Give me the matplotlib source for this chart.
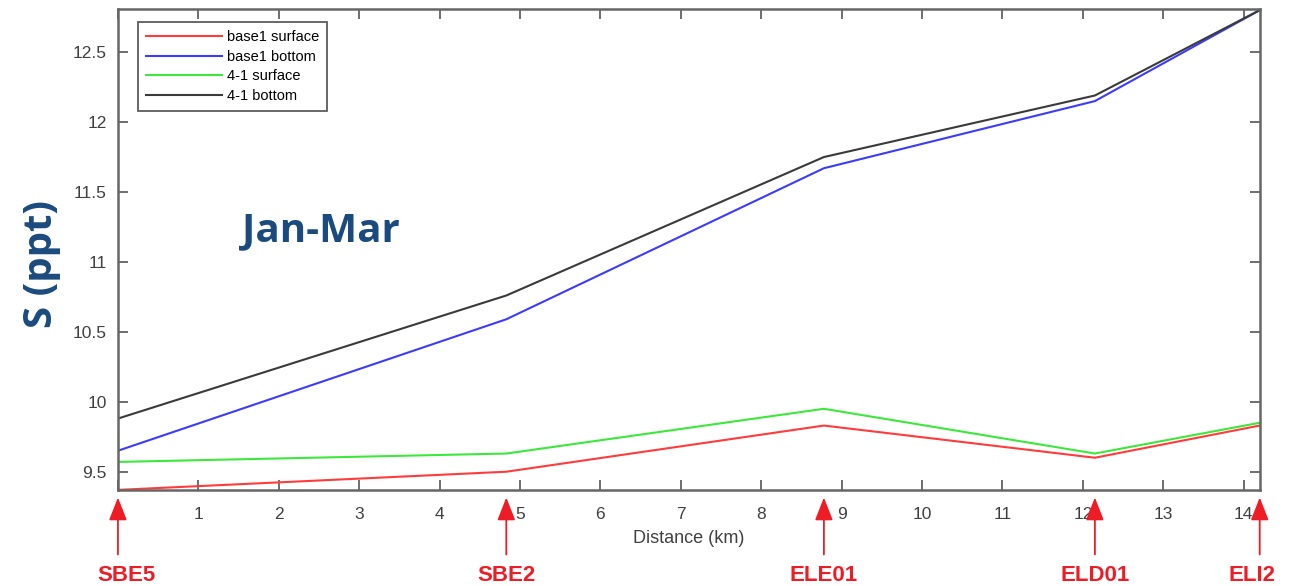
import matplotlib.pyplot as plt
from matplotlib.ticker import MultipleLocator

# station distances along transect (km)
stations = ["SBE5", "SBE2", "ELE01", "ELD01", "ELI2"]
dist = [0.0, 4.83, 8.78, 12.15, 14.2]

base1_surface = [9.37, 9.50, 9.83, 9.60, 9.83]
base1_bottom = [9.65, 10.59, 11.67, 12.15, 12.80]
s41_surface = [9.57, 9.63, 9.95, 9.63, 9.85]
s41_bottom = [9.88, 10.76, 11.75, 12.19, 12.80]

labels = ["base1 surface", "base1 bottom", "4-1 surface", "4-1 bottom"]
colors = ["#ff3b3b", "#3b3bff", "#3be83b", "#3a3a3a"]

plt.rcParams['font.family'] = ['Liberation Sans', 'DejaVu Sans']

fig = plt.figure(figsize=(12.96, 5.86), dpi=100)
ax = fig.add_axes([0.091, 0.164, 0.881, 0.821])

for ys, c, lab in zip([base1_surface, base1_bottom, s41_surface, s41_bottom], colors, labels):
    ax.plot(dist, ys, color=c, linewidth=1.5, label=lab)

ax.set_xlim(0, 14.2)
ax.set_ylim(9.37, 12.81)
ax.xaxis.set_major_locator(MultipleLocator(1))
ax.set_yticks([9.5, 10, 10.5, 11, 11.5, 12, 12.5])
ax.set_yticklabels(["9.5", "10", "10.5", "11", "11.5", "12", "12.5"])

ax.tick_params(direction='in', top=True, right=True, length=7, width=1.2,
               colors='#555555', labelcolor='#404040', labelsize=12.5, pad=8)
ax.tick_params(axis='x', pad=12)
for sp in ax.spines.values():
    sp.set_color('#666666')
    sp.set_linewidth(1.8)

ax.set_xlabel("Distance (km)", fontsize=13, color='#404040', labelpad=6)

leg = ax.legend(loc='upper left', bbox_to_anchor=(0.015, 0.978), fontsize=10.5,
                frameon=True, fancybox=False, handlelength=5.2, borderpad=0.55,
                labelspacing=0.38, handletextpad=0.35, borderaxespad=0.2)
leg.get_frame().set_edgecolor('#333333')
leg.get_frame().set_linewidth(1.3)

# panel title and y label
fig.text(0.187, 0.607, "Jan-Mar", fontsize=29, fontweight='bold', color='#1b4a7e',
         family=['Open Sans', 'DejaVu Sans'], va='center', ha='left')
fig.text(0.032, 0.55, "S (ppt)", fontsize=29, fontweight='bold', color='#1b4a7e',
         family=['Open Sans', 'DejaVu Sans'], va='center', ha='center', rotation=90)

# station markers
for name, d in zip(stations, dist):
    ax.annotate("", xy=(d, -0.01), xycoords=('data', 'axes fraction'),
                xytext=(d, -0.14), textcoords=('data', 'axes fraction'),
                arrowprops=dict(arrowstyle='-|>,head_width=0.55,head_length=1.4',
                                color='#ee1c25', lw=1.3), annotation_clip=False)
    xpos = d
    if name == "SBE5":
        xpos = d + 0.1
    if name == "ELI2":
        xpos = d - 0.1
    ax.text(xpos, -0.178, name, transform=ax.get_xaxis_transform(), ha='center',
            va='center', fontsize=16, fontweight='bold', color='#ee1c25', clip_on=False)

fig.savefig("out.png", dpi=100)
